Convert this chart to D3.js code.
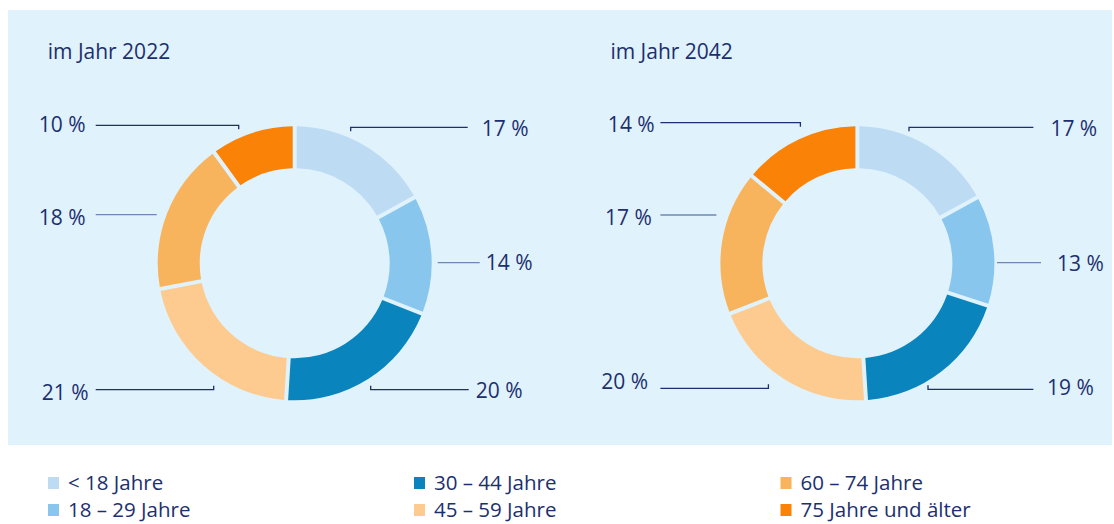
<!DOCTYPE html>
<html>
<head>
<meta charset="utf-8">
<script src="https://cdn.jsdelivr.net/npm/d3@7"></script>
<style>
  body { margin: 0; background: #fff; }
  svg text { font-family: "Open Sans", "Noto Sans", sans-serif; fill: #1c2f6e; }
</style>
</head>
<body>
<svg id="chart"></svg>
<script>
// Chart dimensions
const width = 1114;
const height = 524;

// DATA
const groups = ["< 18 Jahre", "18 – 29 Jahre", "30 – 44 Jahre", "45 – 59 Jahre", "60 – 74 Jahre", "75 Jahre und älter"];
const years = ["2022", "2042"];
const shares2022 = [17, 14, 20, 21, 18, 10];
const shares2042 = [17, 13, 19, 20, 17, 14];

const colors = ["#bddcf4", "#88c6ee", "#0a84bd", "#fdcb8f", "#f8b45c", "#fa8207"];

// label placement (offsets from the donut centre): line y, near end x, far end x, text x, text y, tick direction
const labelLayout2022 = [
  { y: -136, near: 56, far: 173, tx: 187, ty: -135, tick: 1 },
  { y: -0.6, near: 143, far: 185, tx: 191, ty: -0.8, tick: 0 },
  { y: 126.4, near: 76, far: 174, tx: 181, ty: 126.7, tick: -1 },
  { y: 126.4, near: -81, far: -199, tx: -206, ty: 128.7, tick: -1 },
  { y: -48.6, near: -138, far: -199, tx: -209, ty: -45.8, tick: 0 },
  { y: -138, near: -56, far: -199, tx: -209, ty: -138.8, tick: 1 }
];
const labelLayout2042 = [
  { y: -136, near: 51.6, far: 176, tx: 193, ty: -135, tick: 1 },
  { y: -0.6, near: 139.6, far: 183.6, tx: 199.6, ty: -0.3, tick: 0 },
  { y: 126, near: 70.6, far: 176, tx: 189.6, ty: 123.7, tick: -1 },
  { y: 125, near: -89, far: -197, tx: -209.4, ty: 118.2, tick: -1 },
  { y: -48.3, near: -141, far: -197, tx: -205.5, ty: -45.8, tick: 0 },
  { y: -140.6, near: -57, far: -197, tx: -202.7, ty: -139.3, tick: 1 }
];

const svg = d3.select("#chart").attr("width", width).attr("height", height);

// background panel
svg.append("rect")
  .attr("x", 8).attr("y", 10)
  .attr("width", 1104).attr("height", 435)
  .attr("fill", "#e0f2fc");

const pie = d3.pie().sort(null).value((d) => d);
const arc = d3.arc().innerRadius(95).outerRadius(137).padAngle(0.024);

const charts = [
  { year: years[0], values: shares2022, layout: labelLayout2022, cx: 294.7, cy: 263.3 },
  { year: years[1], values: shares2042, layout: labelLayout2042, cx: 857.4, cy: 263.3 }
];

charts.forEach((c) => {
  // title
  svg.append("text")
    .attr("x", c.cx - 247)
    .attr("y", 59)
    .attr("font-size", 21)
    .text(`im Jahr ${c.year}`);

  const g = svg.append("g").attr("transform", `translate(${c.cx}, ${c.cy})`);

  // SLICES
  g.selectAll("path.slice")
    .data(pie(c.values))
    .enter()
    .append("path")
    .attr("class", "slice")
    .attr("d", arc)
    .attr("fill", (d, i) => colors[i]);

  // LEADER LINES + LABELS
  const labels = g.selectAll("g.label")
    .data(c.values.map((v, i) => ({ v, p: c.layout[i] })))
    .enter()
    .append("g")
    .attr("class", "label");

  labels.append("path")
    .attr("d", (d) => {
      const p = d.p;
      const start = p.tick ? `M${p.near},${p.y + 4 * p.tick}L${p.near},${p.y}` : `M${p.near},${p.y}`;
      return `${start}L${p.far},${p.y}`;
    })
    .attr("fill", "none")
    .attr("stroke", (d) => (d.p.tick ? "#1c2f6e" : "#6f88b3"))
    .attr("stroke-width", 1.3);

  labels.append("text")
    .attr("x", (d) => d.p.tx)
    .attr("y", (d) => d.p.ty)
    .attr("dy", "0.36em")
    .attr("text-anchor", (d) => (d.p.tx < 0 ? "end" : "start"))
    .attr("font-size", 21)
    .text((d) => `${d.v} %`);
});

// LEGEND
const legendCols = [48, 414, 780.5];
const legend = svg.append("g").attr("id", "legend");

const items = legend.selectAll("g")
  .data(groups)
  .enter()
  .append("g")
  .attr("transform", (d, i) => `translate(${legendCols[Math.floor(i / 2)]}, ${477 + (i % 2) * 27})`);

items.append("rect")
  .attr("width", 11)
  .attr("height", 12)
  .attr("fill", (d, i) => colors[i]);

items.append("text")
  .attr("x", 20)
  .attr("y", 6)
  .attr("dy", "0.36em")
  .attr("font-size", 20.5)
  .text((d) => d);
</script>
</body>
</html>
